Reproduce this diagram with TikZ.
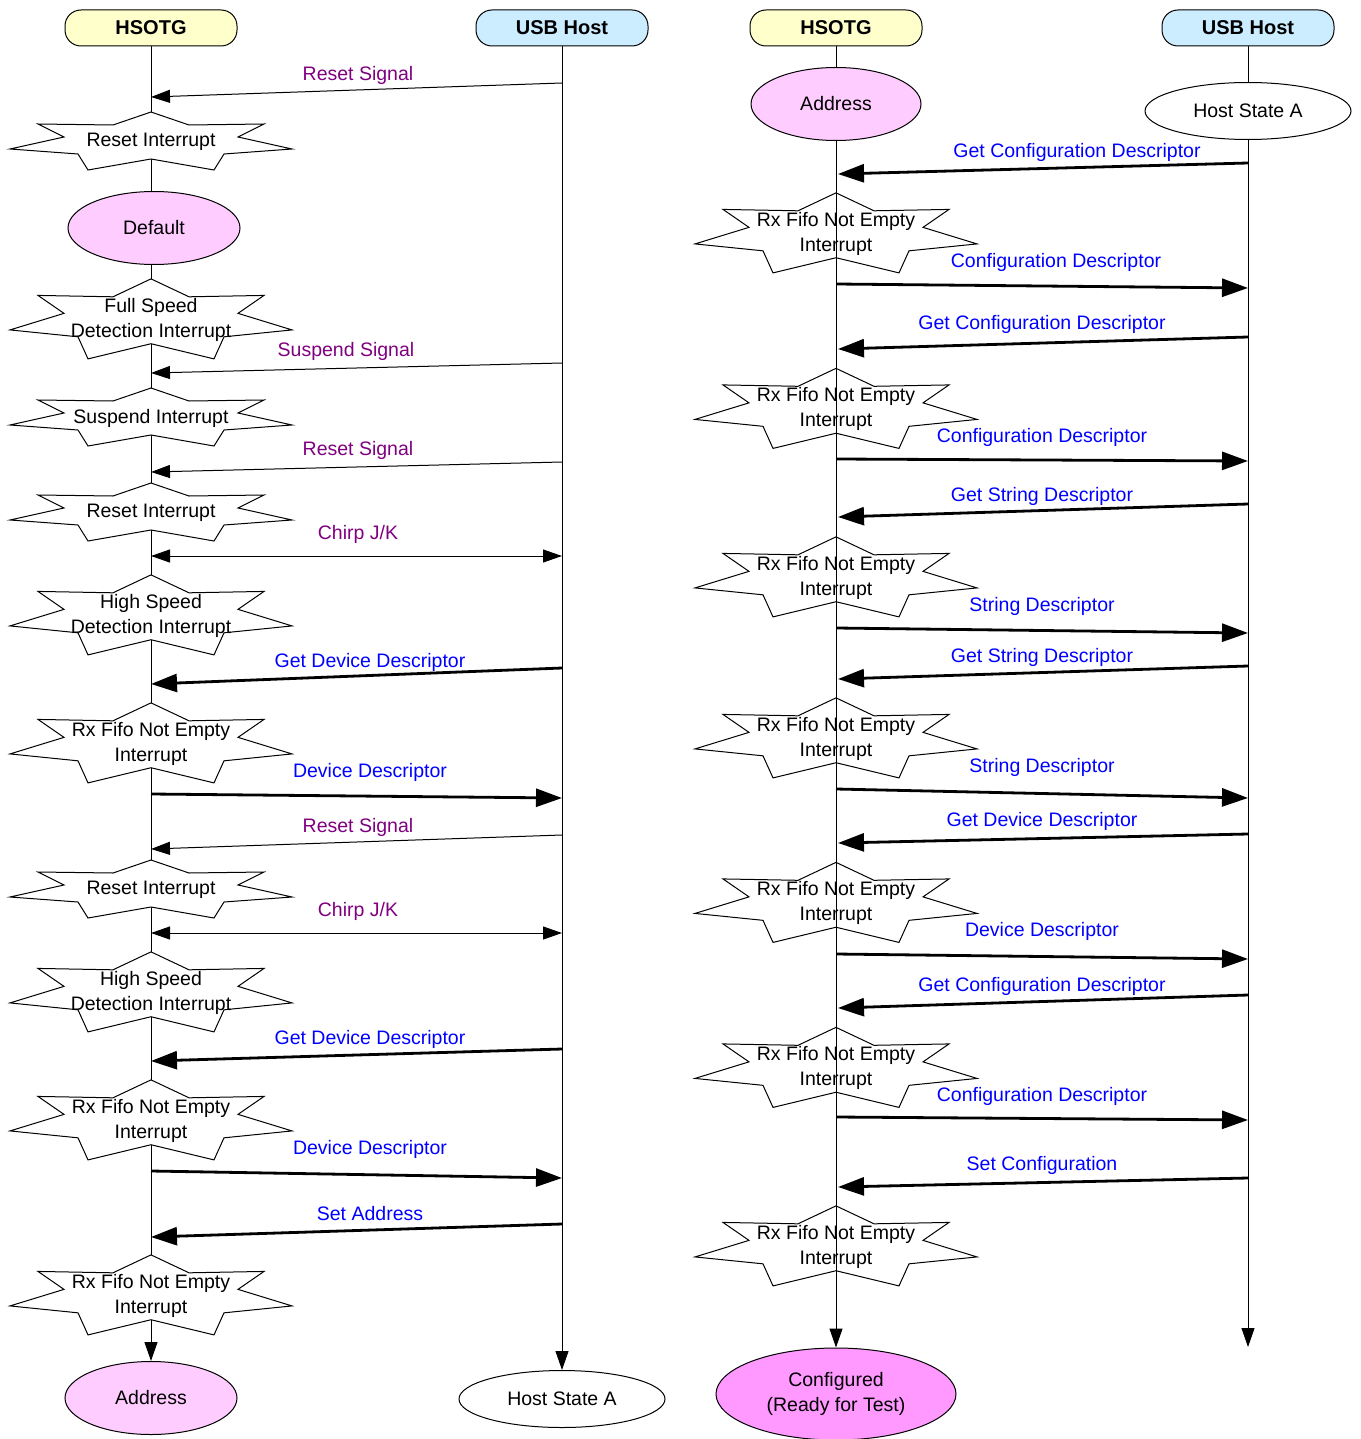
\documentclass[tikz,border=0pt]{standalone}
\usepackage{fontspec}
\setmainfont{Liberation Sans}
\usetikzlibrary{shapes.geometric,arrows.meta,backgrounds}
\definecolor{boxyellow}{HTML}{FFFFCC}
\definecolor{boxblue}{HTML}{CCECFF}
\definecolor{statepink}{HTML}{FFCCFF}
\definecolor{donepink}{HTML}{FF99FF}
\definecolor{sigcol}{HTML}{800080}
\definecolor{reqcol}{HTML}{0000FF}
\tikzset{>={Triangle[length=9.5pt,width=6.5pt]},
  actor/.style={draw,rounded corners=8pt,minimum width=86pt,minimum height=18pt,font=\bfseries,line width=0.5pt},
  state/.style={draw,ellipse,line width=0.5pt,inner sep=0pt},
  irq/.style={align=center,inner sep=0pt,yshift=-1pt},
  sig/.style={->,line width=0.5pt},
  chirp/.style={<->,line width=0.5pt},
  sigl/.style={text=sigcol,yshift=-1pt},
  req/.style={-{Triangle[length=13pt,width=9pt]},line width=1.4pt},
  reql/.style={text=reqcol,yshift=-1pt},
  life/.style={->,line width=0.5pt}}

% interrupt burst: [fill]{name}{centre}{y stretch}{text}
\newcommand{\burst}[5][white]{%
  \begin{scope}[shift={#3},yscale=#4]
  \path[draw,fill=#1,line width=0.5pt] (0,-28) -- (38,-15) -- (113,-16) -- (87,-3) -- (141,9) -- (73,14) -- (63,30) -- (0,19)
    -- (-63,30) -- (-73,14) -- (-141,9) -- (-87,-3) -- (-113,-16) -- (-38,-15) -- cycle;
  \end{scope}
  \node[irq] (#2) at #3 {#5};}

\begin{document}
\begin{tikzpicture}[x=0.5pt,y=-0.5pt,font=\fontsize{9.75}{12.5}\selectfont]
\useasboundingbox (0,0) rectangle (1360,1439);

\node[actor,fill=boxyellow] (dev1) at (151,28) {HSOTG};
\node[actor,fill=boxblue] (host1) at (562,28) {USB Host};
\node[actor,fill=boxyellow] (dev2) at (836,28) {HSOTG};
\node[actor,fill=boxblue] (host2) at (1248,28) {USB Host};

\node[state,fill=statepink,minimum width=86pt,minimum height=36.5pt] (dflt) at (154,228) {Default};
\node[state,fill=statepink,minimum width=86pt,minimum height=36.5pt] (adr1) at (151,1398) {Address};
\node[state,fill=white,minimum width=103pt,minimum height=28.5pt] (hsa1) at (562,1399) {Host State A};
\node[state,fill=statepink,minimum width=85pt,minimum height=36.5pt] (adr2) at (836,104) {Address};
\node[state,fill=white,minimum width=103pt,minimum height=28.5pt] (hsa2) at (1248,111) {Host State A};
\node[state,fill=donepink,minimum width=120pt,minimum height=46pt,align=center] (cfg) at (836,1394) {Configured\\(Ready for Test)};
\coordinate (end2) at (1248,1347);

% left column
\burst{rst1}{(151,140)}{1}{Reset Interrupt}
\burst{fsd}{(151,317.5)}{1.38}{Full Speed\\Detection Interrupt}
\burst{sus}{(151,416)}{1}{Suspend Interrupt}
\burst{rst2}{(151,511)}{1}{Reset Interrupt}
\burst{hsd1}{(151,613.5)}{1.38}{High Speed\\Detection Interrupt}
\burst{rxf1}{(151,741.5)}{1.38}{Rx Fifo Not Empty\\Interrupt}
\burst{rst3}{(151,888)}{1}{Reset Interrupt}
\burst{hsd2}{(151,990.5)}{1.38}{High Speed\\Detection Interrupt}
\burst{rxf2}{(151,1118.5)}{1.38}{Rx Fifo Not Empty\\Interrupt}
\burst{rxf3}{(151,1293.5)}{1.38}{Rx Fifo Not Empty\\Interrupt}

\coordinate (a1) at (562,83); \coordinate (b1) at (151,97);
\draw[sig] (a1) -- (b1); \node[sigl] (l1) at (358,73) {Reset Signal};
\coordinate (a2) at (562,363); \coordinate (b2) at (151,373);
\draw[sig] (a2) -- (b2); \node[sigl] (l2) at (346,349) {Suspend Signal};
\coordinate (a3) at (562,462); \coordinate (b3) at (151,472);
\draw[sig] (a3) -- (b3); \node[sigl] (l3) at (358,448) {Reset Signal};
\coordinate (a4) at (562,556); \coordinate (b4) at (151,556);
\draw[chirp] (a4) -- (b4); \node[sigl] (l4) at (358,532) {Chirp J/K};
\coordinate (a5) at (562,668); \coordinate (b5) at (151,684);
\draw[req] (a5) -- (b5); \node[reql] (l5) at (370,660) {Get Device Descriptor};
\coordinate (a6) at (562,798); \coordinate (b6) at (151,794);
\draw[req] (b6) -- (a6); \node[reql] (l6) at (370,770) {Device Descriptor};
\coordinate (a7) at (562,835); \coordinate (b7) at (151,849);
\draw[sig] (a7) -- (b7); \node[sigl] (l7) at (358,825) {Reset Signal};
\coordinate (a8) at (562,933); \coordinate (b8) at (151,933);
\draw[chirp] (a8) -- (b8); \node[sigl] (l8) at (358,909) {Chirp J/K};
\coordinate (a9) at (562,1049); \coordinate (b9) at (151,1061);
\draw[req] (a9) -- (b9); \node[reql] (l9) at (370,1037) {Get Device Descriptor};
\coordinate (a10) at (562,1178); \coordinate (b10) at (151,1171);
\draw[req] (b10) -- (a10); \node[reql] (l10) at (370,1147) {Device Descriptor};
\coordinate (a11) at (562,1224); \coordinate (b11) at (151,1237);
\draw[req] (a11) -- (b11); \node[reql] (l11) at (370,1212) {Set Address};

% right column
\burst[none]{rxf4}{(836,231.5)}{1.38}{Rx Fifo Not Empty\\Interrupt}
\burst[none]{rxf5}{(836,407)}{1.38}{Rx Fifo Not Empty\\Interrupt}
\burst[none]{rxf6}{(836,575.5)}{1.38}{Rx Fifo Not Empty\\Interrupt}
\burst[none]{rxf7}{(836,736.5)}{1.38}{Rx Fifo Not Empty\\Interrupt}
\burst[none]{rxf8}{(836,901)}{1.38}{Rx Fifo Not Empty\\Interrupt}
\burst[none]{rxf9}{(836,1066)}{1.38}{Rx Fifo Not Empty\\Interrupt}
\burst[none]{rxf10}{(836,1244.5)}{1.38}{Rx Fifo Not Empty\\Interrupt}

\coordinate (c1) at (1248,163); \coordinate (d1) at (838,174);
\draw[req] (c1) -- (d1); \node[reql] (m1) at (1077,150) {Get Configuration Descriptor};
\coordinate (c2) at (1248,288); \coordinate (d2) at (836,284);
\draw[req] (d2) -- (c2); \node[reql] (m2) at (1056,260) {Configuration Descriptor};
\coordinate (c3) at (1248,337); \coordinate (d3) at (838,349);
\draw[req] (c3) -- (d3); \node[reql] (m3) at (1042,322) {Get Configuration Descriptor};
\coordinate (c4) at (1248,461); \coordinate (d4) at (836,459);
\draw[req] (d4) -- (c4); \node[reql] (m4) at (1042,435) {Configuration Descriptor};
\coordinate (c5) at (1248,504); \coordinate (d5) at (838,517);
\draw[req] (c5) -- (d5); \node[reql] (m5) at (1042,494) {Get String Descriptor};
\coordinate (c6) at (1248,633); \coordinate (d6) at (836,628);
\draw[req] (d6) -- (c6); \node[reql] (m6) at (1042,604) {String Descriptor};
\coordinate (c7) at (1248,666); \coordinate (d7) at (838,679);
\draw[req] (c7) -- (d7); \node[reql] (m7) at (1042,655) {Get String Descriptor};
\coordinate (c8) at (1248,798); \coordinate (d8) at (836,789);
\draw[req] (d8) -- (c8); \node[reql] (m8) at (1042,765) {String Descriptor};
\coordinate (c9) at (1248,834); \coordinate (d9) at (838,843);
\draw[req] (c9) -- (d9); \node[reql] (m9) at (1042,819) {Get Device Descriptor};
\coordinate (c10) at (1248,959); \coordinate (d10) at (836,954);
\draw[req] (d10) -- (c10); \node[reql] (m10) at (1042,929) {Device Descriptor};
\coordinate (c11) at (1248,995); \coordinate (d11) at (838,1008);
\draw[req] (c11) -- (d11); \node[reql] (m11) at (1042,984) {Get Configuration Descriptor};
\coordinate (c12) at (1248,1120); \coordinate (d12) at (836,1117);
\draw[req] (d12) -- (c12); \node[reql] (m12) at (1042,1094) {Configuration Descriptor};
\coordinate (c13) at (1248,1178); \coordinate (d13) at (838,1187);
\draw[req] (c13) -- (d13); \node[reql] (m13) at (1042,1163) {Set Configuration};

% lifelines go behind the bursts and states
\begin{scope}[on background layer]
\draw[life] (dev1) -- (adr1);
\draw[life] (host1) -- (hsa1);
\draw[life] (dev2) -- (cfg);
\draw[life] (host2) -- (end2);
\end{scope}
\end{tikzpicture}
\end{document}
